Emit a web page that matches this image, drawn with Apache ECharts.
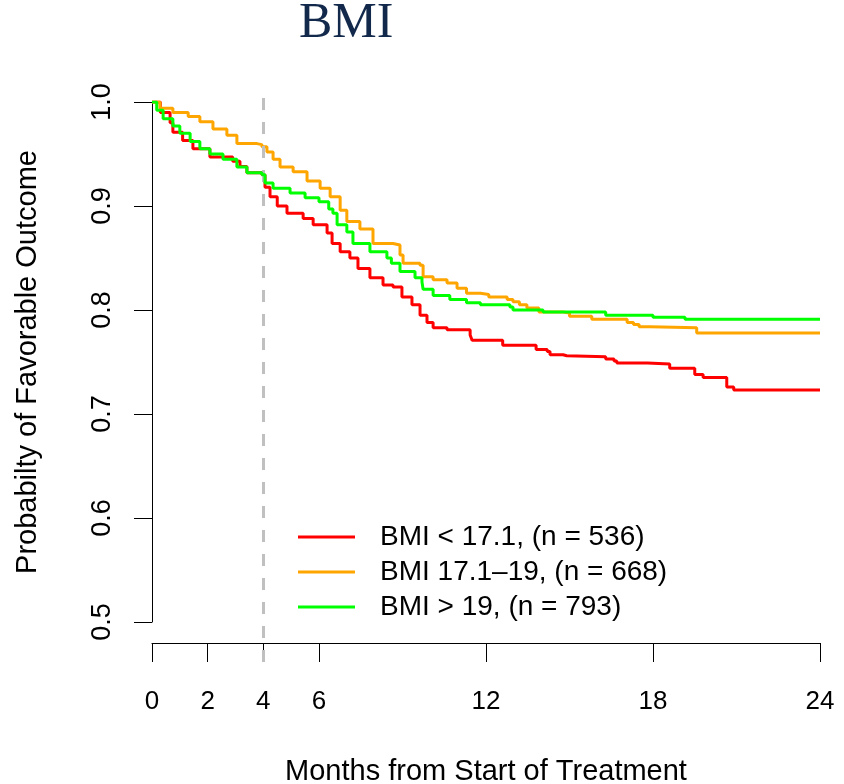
<!DOCTYPE html>
<html>
<head>
<meta charset="utf-8">
<script src="https://cdn.jsdelivr.net/npm/echarts@6/dist/echarts.min.js"></script>
<style>
html,body{margin:0;padding:0;background:#fff;}
#chart{width:844px;height:784px;}
</style>
</head>
<body>
<div id="chart"></div>
<script>
// ---- data ----
const titleText = 'BMI';
const xTitle = 'Months from Start of Treatment';
const yTitle = 'Probabilty of Favorable Outcome';
const xTicks = [0, 2, 4, 6, 12, 18, 24];
const yTicks = [0.5, 0.6, 0.7, 0.8, 0.9, 1.0];
const refMonth = 4;
const seriesNames = ['BMI < 17.1, (n = 536)', 'BMI 17.1\u201319, (n = 668)', 'BMI > 19, (n = 793)'];
const seriesColors = ['#ff0000', '#ffa500', '#00ff00'];

const lowBMI = [[0,1.0],[0.3,0.99],[0.65,0.980],[0.75,0.971],[1.1,0.963],[1.47,0.955],[2.08,0.947],[2.62,0.947],[2.9,0.943],[3.16,0.938],[3.41,0.932],[3.95,0.930],[4.06,0.918],[4.24,0.909],[4.5,0.900],[4.85,0.893],[5.43,0.888],[5.79,0.882],[6.29,0.874],[6.47,0.864],[6.76,0.856],[7.11,0.850],[7.40,0.840],[7.83,0.831],[8.30,0.824],[8.66,0.822],[8.98,0.8125],[9.34,0.805],[9.63,0.795],[9.88,0.788],[10.1,0.783],[10.6,0.781],[11.43,0.776],[11.5,0.771],[12.6,0.766],[13.8,0.762],[14.2,0.760],[14.3,0.757],[14.77,0.756],[14.9,0.755],[16.3,0.753],[16.6,0.751],[16.7,0.749],[17.8,0.748],[18.6,0.744],[19.5,0.738],[19.8,0.735],[20.65,0.726],[20.9,0.723],[24,0.723]];

const midBMI = [[0,1.0],[0.29,0.994],[0.75,0.990],[1.3,0.986],[1.72,0.981],[2.19,0.974],[2.69,0.968],[3.05,0.960],[3.77,0.959],[3.95,0.957],[4.13,0.952],[4.35,0.945],[4.6,0.9375],[5.07,0.933],[5.57,0.924],[6.04,0.917],[6.4,0.909],[6.76,0.896],[7.0,0.885],[7.47,0.878],[7.94,0.864],[8.66,0.8625],[8.91,0.853],[9.02,0.845],[9.63,0.843],[9.74,0.832],[10.1,0.829],[10.6,0.826],[10.96,0.821],[11.3,0.816],[11.8,0.815],[12.1,0.8125],[12.76,0.810],[12.97,0.808],[13.2,0.805],[13.47,0.802],[13.9,0.798],[14.77,0.797],[15.0,0.794],[15.8,0.791],[17.07,0.788],[17.3,0.786],[17.5,0.784],[17.9,0.783],[19.57,0.778],[24,0.778]];

const highBMI = [[0,1.0],[0.17,0.992],[0.4,0.984],[0.75,0.977],[1.0,0.970],[1.37,0.962],[1.72,0.955],[2.08,0.950],[2.55,0.945],[3.05,0.9375],[3.41,0.932],[3.95,0.930],[4.06,0.922],[4.35,0.917],[4.96,0.9125],[5.5,0.908],[6.0,0.904],[6.35,0.897],[6.5,0.893],[6.65,0.882],[7.0,0.875],[7.22,0.864],[7.83,0.856],[8.44,0.850],[8.6,0.845],[8.91,0.837],[9.45,0.831],[9.7,0.827],[9.74,0.820],[10.1,0.814],[10.7,0.810],[11.3,0.807],[11.8,0.805],[12.86,0.803],[12.97,0.800],[14.05,0.798],[16.3,0.795],[18.0,0.793],[19.15,0.791],[24,0.791]];

const curves = [lowBMI, midBMI, highBMI];

// ---- chart ----
const chart = echarts.init(document.getElementById('chart'), null, {renderer: 'canvas'});
const sans = 'Liberation Sans, Arial, Helvetica, sans-serif';

const option = {
  animation: false,
  backgroundColor: '#ffffff',
  title: {
    text: titleText,
    left: 299,
    top: -1,
    padding: 0,
    textStyle: {fontFamily: 'Liberation Serif, Times New Roman, serif', fontSize: 50, fontWeight: 'normal', color: '#13294b'}
  },
  legend: {
    orient: 'vertical',
    left: 298,
    top: 523,
    padding: 0,
    itemWidth: 57,
    itemHeight: 3,
    itemGap: 7,
    icon: 'rect',
    selectedMode: false,
    data: seriesNames,
    textStyle: {fontFamily: sans, fontSize: 28, lineHeight: 28, color: '#000', padding: [0, 0, 0, 20]}
  },
  grid: [
    {left: 152, right: 24, top: 102, bottom: 162, containLabel: false, outerBoundsMode: 'none'},
    {left: 152, right: 24, top: 88, bottom: 122, containLabel: false, outerBoundsMode: 'none'}
  ],
  xAxis: [
    {
      type: 'value', gridIndex: 0, min: 0, max: 24, offset: 21,
      name: xTitle, nameLocation: 'middle', nameGap: 114,
      nameTextStyle: {fontFamily: sans, fontSize: 29, color: '#000'},
      axisLine: {show: true, lineStyle: {color: '#000', width: 1}},
      axisTick: {show: true, length: 19, lineStyle: {color: '#000', width: 1}, customValues: xTicks},
      axisLabel: {show: true, margin: 46, fontFamily: sans, fontSize: 26, color: '#000', customValues: xTicks},
      splitLine: {show: false}
    },
    {type: 'value', gridIndex: 1, min: 0, max: 24, show: false}
  ],
  yAxis: [
    {
      type: 'value', gridIndex: 0, min: 0.5, max: 1.0, interval: 0.1,
      name: yTitle, nameLocation: 'middle', nameGap: 110, nameRotate: 90,
      nameTextStyle: {fontFamily: sans, fontSize: 29, color: '#000'},
      axisLine: {show: true, lineStyle: {color: '#000', width: 1}},
      axisTick: {show: true, length: 18, lineStyle: {color: '#000', width: 1}},
      axisLabel: {show: true, rotate: 90, margin: 36, fontFamily: sans, fontSize: 27, color: '#000',
        formatter: v => v.toFixed(1)},
      splitLine: {show: false}
    },
    {type: 'value', gridIndex: 1, min: 0, max: 1, show: false}
  ],
  series: [
    {
      type: 'line', xAxisIndex: 1, yAxisIndex: 1, data: [], silent: true,
      markLine: {
        silent: true, symbol: 'none', label: {show: false},
        lineStyle: {color: '#c0c0c0', type: [12, 12], width: 3},
        data: [{xAxis: refMonth}]
      }
    }
  ].concat(curves.map((d, i) => ({
    name: seriesNames[i],
    type: 'line',
    xAxisIndex: 0, yAxisIndex: 0,
    step: 'end',
    data: d,
    showSymbol: false,
    symbol: 'none',
    color: seriesColors[i],
    lineStyle: {color: seriesColors[i], width: 3},
    z: 3 + i
  })))
};
chart.setOption(option);
</script>
</body>
</html>
